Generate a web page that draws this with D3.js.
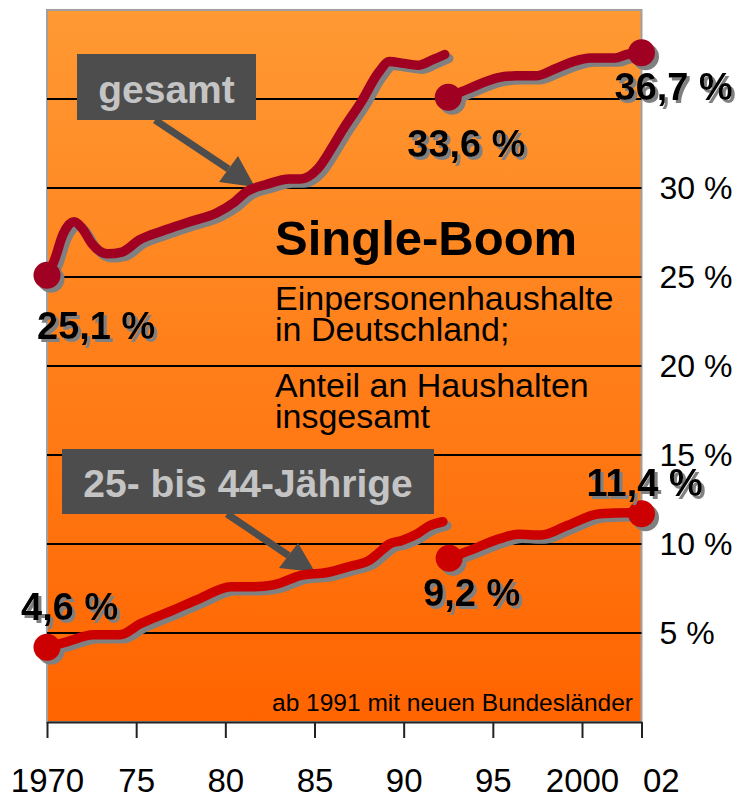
<!DOCTYPE html>
<html>
<head>
<meta charset="utf-8">
<script src="https://cdn.jsdelivr.net/npm/d3@7"></script>
<style>
  body { margin: 0; background: #fff; }
  svg { display: block; }
  text { font-family: "Liberation Sans", Arial, sans-serif; }
</style>
</head>
<body>
<svg id="chart" width="742" height="798"></svg>
<script>
// Einpersonenhaushalte, Anteil in % -- [Jahr, Wert]
// bis 1991 alte Länder, danach mit neuen Bundesländern
const gesamtWest = [
  [1970, 25.1], [1970.4, 25.9], [1970.9, 27.4], [1971.5, 28.1], [1972.0, 27.7],
  [1972.5, 26.9], [1973.4, 26.3], [1974.2, 26.4], [1975.2, 27.1], [1976.5, 27.6],
  [1978.0, 28.1], [1979.5, 28.6], [1980.5, 29.2], [1981.2, 29.8], [1982.3, 30.2],
  [1983.6, 30.5], [1984.2, 30.5], [1985.2, 31.1], [1986.0, 32.3], [1986.6, 33.3],
  [1987.6, 34.8], [1988.6, 36.5], [1989.2, 37.1], [1990.0, 37.0], [1990.8, 36.9],
  [1991.6, 37.2], [1992.3, 37.5]
];
const gesamtNeu = [
  [1992.5, 35.1], [1993.7, 35.6], [1995.3, 36.2], [1996.3, 36.3], [1997.4, 36.3],
  [1998.5, 36.7], [1999.5, 37.1], [2000.3, 37.3], [2001.1, 37.3], [2001.5, 37.5],
  [2002, 37.6]
];
const juengereWest = [
  [1970, 4.2], [1971.1, 4.5], [1972.6, 4.9], [1974.1, 4.9], [1975.2, 5.5],
  [1977.1, 6.3], [1978.6, 6.95], [1980.3, 7.6], [1981.6, 7.6], [1982.7, 7.7],
  [1984.3, 8.25], [1985.7, 8.4], [1987.0, 8.75], [1988.1, 9.1], [1988.6, 9.5],
  [1989.2, 10.0], [1989.9, 10.2], [1990.8, 10.6], [1991.4, 11.0], [1992.2, 11.25]
];
const juengereNeu = [
  [1992.55, 9.2], [1993.6, 9.6], [1995.4, 10.3], [1996.4, 10.55], [1997.7, 10.5],
  [1999.2, 11.05], [2000.6, 11.7], [2001.6, 11.75], [2002, 11.7]
];

const xTicks = [1970, 1975, 1980, 1985, 1990, 1995, 2000, 2002];
const xTickLabels = ['1970', '75', '80', '85', '90', '95', '2000', '02'];
const yTicks = [5, 10, 15, 20, 25, 30];
const gridValues = [5, 10, 15, 20, 25, 30, 35];

const valueLabels = [
  { text: '25,1 %', point: gesamtWest[0], dx: -10, dy: 64 },
  { text: '33,6 %', point: gesamtNeu[0], dx: -41, dy: 60 },
  { text: '36,7 %', point: gesamtNeu[gesamtNeu.length - 1], dx: -27, dy: 47 },
  { text: '4,6 %', point: juengereWest[0], dx: -26, dy: -27 },
  { text: '9,2 %', point: juengereNeu[0], dx: -26, dy: 48 },
  { text: '11,4 %', point: juengereNeu[juengereNeu.length - 1], dx: -55, dy: -18 }
];

const svg = d3.select('#chart');

// x-Achse: die letzte Beschriftung (02) sitzt am rechten Rand
const x = d3.scaleLinear().domain([1970, 2000, 2002]).range([47, 582, 641.5]);
const y = d3.scaleLinear().domain([0, 40]).range([722, 10]);

const defs = svg.append('defs');

// Hintergrund-Verlauf
const grad = defs.append('linearGradient')
  .attr('id', 'bg').attr('x1', 0).attr('y1', 0).attr('x2', 0).attr('y2', 1);
grad.append('stop').attr('offset', '0%').attr('stop-color', '#ff9933');
grad.append('stop').attr('offset', '100%').attr('stop-color', '#ff6400');

// harter grauer Schatten für die Wertebeschriftungen
defs.append('filter')
  .attr('id', 'txtShadow')
  .attr('x', '-10%').attr('y', '-20%').attr('width', '130%').attr('height', '150%')
  .append('feDropShadow')
  .attr('dx', 3).attr('dy', 3).attr('stdDeviation', 0)
  .attr('flood-color', '#808080').attr('flood-opacity', 1);

svg.append('rect')
  .attr('x', x(1970)).attr('y', y(40))
  .attr('width', x(2002) - x(1970)).attr('height', y(0) - y(40))
  .attr('fill', 'url(#bg)')
  .attr('stroke', '#a0a0a0').attr('stroke-width', 2);

// Gitterlinien
svg.append('g').selectAll('line')
  .data(gridValues)
  .join('line')
  .attr('x1', x(1970)).attr('x2', x(2002))
  .attr('y1', d => y(d)).attr('y2', d => y(d))
  .attr('stroke', '#000').attr('stroke-width', 2);

// Achsen
const xAxisG = svg.append('g')
  .attr('transform', `translate(0, ${y(0)})`)
  .call(d3.axisBottom(x).tickValues(xTicks)
    .tickFormat((d, i) => xTickLabels[i]).tickSize(16).tickSizeOuter(0));
xAxisG.select('.domain').attr('stroke', '#222').attr('stroke-width', 2);
xAxisG.selectAll('.tick line').attr('stroke', '#222').attr('stroke-width', 2);
xAxisG.selectAll('.tick text')
  .attr('y', 70).attr('dy', 0)
  .attr('font-size', 33).attr('fill', '#000');
xAxisG.selectAll('.tick text').filter(d => d === 2002)
  .attr('text-anchor', 'start').attr('x', 1);

const yAxisG = svg.append('g')
  .attr('transform', `translate(${x(2002)}, 0)`)
  .call(d3.axisRight(y).tickValues(yTicks).tickFormat(d => d + ' %')
    .tickSize(0).tickPadding(18));
yAxisG.select('.domain').remove();
yAxisG.selectAll('.tick text').attr('font-size', 32).attr('fill', '#000');

// Fußnote
svg.append('text')
  .attr('x', 633).attr('y', 711)
  .attr('text-anchor', 'end')
  .attr('font-size', 24.5)
  .text('ab 1991 mit neuen Bundesländer');

// Titel
svg.append('text')
  .attr('x', 275).attr('y', 255)
  .attr('font-size', 49).attr('font-weight', 'bold')
  .text('Single-Boom');
const subLines = [
  ['Einpersonenhaushalte', 310], ['in Deutschland;', 341],
  ['Anteil an Haushalten', 397], ['insgesamt', 428]
];
svg.append('g').selectAll('text')
  .data(subLines)
  .join('text')
  .attr('x', 275).attr('y', d => d[1])
  .attr('font-size', 34)
  .text(d => d[0]);

// Beschriftungskästen mit Pfeilen
function callout(box, label, baseline, from, tip, head) {
  const g = svg.append('g');
  g.append('line')
    .attr('x1', from[0]).attr('y1', from[1])
    .attr('x2', (head[0][0] + head[1][0]) / 2).attr('y2', (head[0][1] + head[1][1]) / 2)
    .attr('stroke', '#4d4d4d').attr('stroke-width', 7);
  g.append('polygon')
    .attr('points', [tip, head[0], head[1]].map(p => p.join(',')).join(' '))
    .attr('fill', '#4d4d4d');
  g.append('rect')
    .attr('x', box[0]).attr('y', box[1])
    .attr('width', box[2] - box[0]).attr('height', box[3] - box[1])
    .attr('fill', '#4d4d4d');
  g.append('text')
    .attr('x', (box[0] + box[2]) / 2).attr('y', baseline)
    .attr('text-anchor', 'middle')
    .attr('font-size', 39).attr('font-weight', 'bold')
    .attr('fill', '#c4c4c4')
    .text(label);
}
callout([77, 54, 256, 120], 'gesamt', 103, [155, 120], [255, 187], [[219, 182], [238, 156]]);
callout([62, 449, 434, 514], '25- bis 44-Jährige', 497, [227, 514], [315, 572], [[279, 568], [298, 543]]);

// Linien
const line = d3.line()
  .x(d => x(d[0]))
  .y(d => y(d[1]))
  .curve(d3.curveMonotoneX);

function drawSeries(segments, color) {
  const g = svg.append('g');
  const markers = [segments[0][0], segments[1][0], segments[1][segments[1].length - 1]];
  segments.forEach(seg => {
    g.append('path')
      .datum(seg)
      .attr('d', line)
      .attr('transform', 'translate(4,4)')
      .attr('fill', 'none').attr('stroke', '#808080')
      .attr('stroke-width', 9.5).attr('stroke-linecap', 'round').attr('stroke-linejoin', 'round');
  });
  g.selectAll('circle.shadow')
    .data(markers)
    .join('circle')
    .attr('class', 'shadow')
    .attr('cx', d => x(d[0]) + 4).attr('cy', d => y(d[1]) + 4)
    .attr('r', 13.5).attr('fill', '#808080');
  segments.forEach(seg => {
    g.append('path')
      .datum(seg)
      .attr('d', line)
      .attr('fill', 'none').attr('stroke', color)
      .attr('stroke-width', 9.5).attr('stroke-linecap', 'round').attr('stroke-linejoin', 'round');
  });
  g.selectAll('circle.dot')
    .data(markers)
    .join('circle')
    .attr('class', 'dot')
    .attr('cx', d => x(d[0])).attr('cy', d => y(d[1]))
    .attr('r', 13.5).attr('fill', color);
}
drawSeries([gesamtWest, gesamtNeu], '#a00022');
drawSeries([juengereWest, juengereNeu], '#cc0000');

// Wertebeschriftungen mit Schatten
svg.append('g').selectAll('text')
  .data(valueLabels)
  .join('text')
  .attr('x', d => x(d.point[0]) + d.dx)
  .attr('y', d => y(d.point[1]) + d.dy)
  .attr('font-size', 38).attr('font-weight', 'bold')
  .attr('fill', '#000')
  .attr('filter', 'url(#txtShadow)')
  .text(d => d.text);
</script>
</body>
</html>
